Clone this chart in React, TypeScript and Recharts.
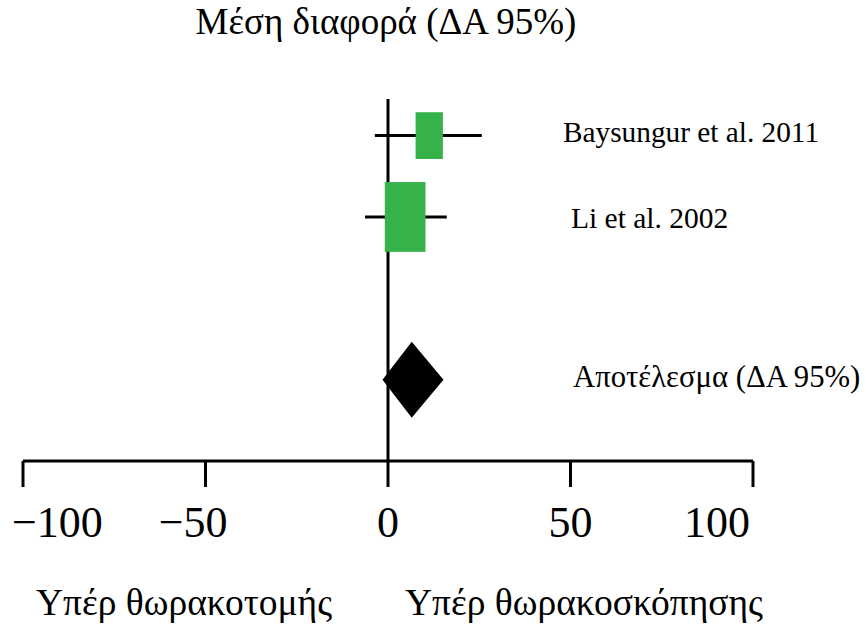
import { ScatterChart, Scatter, XAxis, YAxis, ReferenceLine, ErrorBar } from 'recharts';

// studies, top to bottom
const studies = ['Baysungur et al. 2011', 'Li et al. 2002'];
const studyRows = [4, 3];
const meanDiff = [11.3, 4.7];
const ciLow = [-3.6, -6.3];
const ciHigh = [25.7, 16.1];
const weights = [31, 69];

// pooled estimate
const pooledLabel = 'Αποτέλεσμα (ΔΑ 95%)';
const pooledRow = 1;
const pooledMean = 6.5;
const pooledLow = -1.5;
const pooledHigh = 15.2;

const xTicks = [-100, -50, 0, 50, 100];

const FONT = '"Liberation Serif", "Times New Roman", serif';
const GREEN = '#35B24A';
const TICK_FS = 44;

const studyData = studies.map((name, i) => ({
  name,
  x: meanDiff[i],
  y: studyRows[i],
  weight: weights[i],
  err: [meanDiff[i] - ciLow[i], ciHigh[i] - meanDiff[i]],
}));

const pooledData = [
  { x: pooledLow, y: pooledRow },
  { x: pooledMean, y: pooledRow },
  { x: pooledHigh, y: pooledRow },
];

const WeightBox = (props: any) => {
  const { cx, cy, payload } = props;
  const w = 4.9 * Math.sqrt(payload.weight);
  const h = 8.4 * Math.sqrt(payload.weight);
  return <rect x={cx - w / 2} y={cy - h / 2} width={w} height={h} fill={GREEN} />;
};

// diamond spanning the pooled CI
const Diamond = (props: any) => {
  const pts = props.points;
  if (!pts || pts.length < 3) return null;
  const [lo, mid, hi] = pts;
  const half = 38;
  const d = `${lo.x},${lo.y} ${mid.x},${mid.y - half} ${hi.x},${hi.y} ${mid.x},${mid.y + half}`;
  return <polygon points={d} fill="#000" />;
};

// end labels are pulled inside the axis; minus signs hang to the left of the digits
const AxisTick = (props: any) => {
  const { x, y, payload } = props;
  const v: number = payload.value;
  const digits = `${Math.abs(v)}`;
  const text = v < 0 ? `\u2212${digits}` : digits;
  let anchor: 'start' | 'middle' | 'end' = 'middle';
  let tx = x;
  if (v === xTicks[0]) {
    anchor = 'start';
    tx = x - 11;
  } else if (v === xTicks[xTicks.length - 1]) {
    anchor = 'end';
    tx = x - 3;
  } else if (v < 0) {
    anchor = 'end';
    tx = x + (digits.length * 0.5 * TICK_FS) / 2;
  }
  return (
    <text x={tx} y={y} dy={32} textAnchor={anchor} fontFamily={FONT} fontSize={TICK_FS} fill="#000">
      {text}
    </text>
  );
};

export default function App() {
  return (
    <div style={{ position: 'absolute', left: 0, top: 0, width: 866, height: 630, background: '#fff' }}>
      <ScatterChart width={866} height={630} margin={{ top: 99, right: 113, bottom: 0, left: 23 }}>
        <XAxis
          type="number"
          dataKey="x"
          domain={[-100, 100]}
          ticks={xTicks}
          interval={0}
          height={169}
          stroke="#000"
          axisLine={{ stroke: '#000', strokeWidth: 3 }}
          tickLine={{ stroke: '#000', strokeWidth: 3 }}
          tickSize={26}
          tickMargin={18}
          tick={<AxisTick />}
        />
        <YAxis type="number" dataKey="y" domain={[0, 4.45]} hide />
        <ReferenceLine x={0} stroke="#000" strokeWidth={3} />
        <Scatter data={studyData} shape={<WeightBox />} isAnimationActive={false}>
          <ErrorBar dataKey="err" direction="x" width={0} stroke="#000" strokeWidth={3} />
        </Scatter>
        <Scatter
          data={pooledData}
          shape={() => <g />}
          line={(p: any) => <Diamond {...p} />}
          isAnimationActive={false}
        />
        <text x={386} y={34} textAnchor="middle" fontFamily={FONT} fontSize={37} fill="#000">
          Μέση διαφορά (ΔΑ 95%)
        </text>
        <text x={563} y={142} fontFamily={FONT} fontSize={29.3} fill="#000">
          {studies[0]}
        </text>
        <text x={571} y={228} fontFamily={FONT} fontSize={29.5} fill="#000">
          {studies[1]}
        </text>
        <text x={573} y={387} fontFamily={FONT} fontSize={30.7} fill="#000">
          {pooledLabel}
        </text>
        <text x={36} y={615} fontFamily={FONT} fontSize={37.5} fill="#000">
          Υπέρ θωρακοτομής
        </text>
        <text x={405} y={615} fontFamily={FONT} fontSize={37.5} fill="#000">
          Υπέρ θωρακοσκόπησης
        </text>
      </ScatterChart>
    </div>
  );
}
